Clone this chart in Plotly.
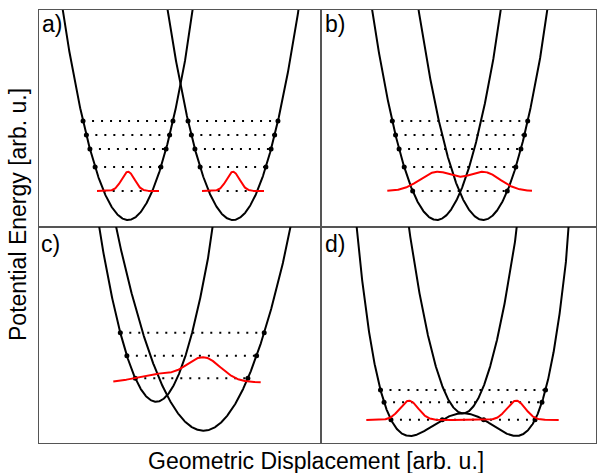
import numpy as np
import plotly.graph_objects as go

# ---------------- data (arbitrary units) ----------------
# panel a: two displaced harmonic wells, separate vibrational ladders
a_centres = [89, 194]
a_minima = [7, 7]
a_curv = [0.049, 0.049]
a_levels = [36, 60, 78, 92, 106]
a_marked = [False, True, True, True, True]
a_wave_centres = [89, 194]
a_wave_amps = [19.3, 19.3]
a_wave_sigma = [6.4, 6.4]
a_wave_base = 36
a_wave_halfspan = 31

# panel b: two close harmonic wells, shared ladder
b_centres = [115.7, 162.3]
b_minima = [7, 7]
b_curv = [0.0502, 0.0502]
b_levels = [36, 60, 78, 92, 106]
b_marked = [True, True, True, True, True]
b_wave_centres = [115.7, 162.3]
b_wave_amps = [18.9, 18.9]
b_wave_sigma = [16.7, 16.7]
b_wave_base = 36
b_wave_span = [66.3, 211]

# panel c: asymmetric wells (different minima and curvature)
c_centres = [117.2, 164.5]
c_minima = [41.3, 12.3]
c_curv = [0.0535, 0.0266]
c_levels = [64.7, 87.3, 110.3]
c_marked = [True, True, True]
c_wave_centres = [117.2, 164.5]
c_wave_amps = [8.0, 24.6]
c_wave_sigma = [20, 17]
c_wave_base = 60.7
c_wave_span = [74.3, 221.7]

# panel d: double-well (quartic) surface plus harmonic upper surface
d_centre = 142
d_well_halfsep = 53
d_barrier = 22.7
d_minimum = 7
d_upper_curv = 0.0635
d_levels = [23.3, 40.7, 53]
d_marked = [True, True, True]
d_wave_centres = [88, 195]
d_wave_amps = [19.3, 19.3]
d_wave_sigma = [9.2, 9.2]
d_wave_base = 23
d_wave_span = [45.3, 237.7]

labels = ["a)", "b)", "c)", "d)"]
x_title = "Geometric Displacement [arb. u.]"
y_title = "Potential Energy [arb. u.]"

# ---------------- layout constants ----------------
W, H = 597, 473
FONT = "Liberation Sans, Arial, sans-serif"
col_px = [(39, 321), (321, 596)]
row_px = [(10, 227), (227, 443)]
FRAME = "#555555"
BLACK = "#000000"
RED = "#ff0000"

fig = go.Figure()
axes = []  # (xref, yref, width, height)
k = 0
for r, (t, b) in enumerate(row_px):
    for c, (l, rr) in enumerate(col_px):
        k += 1
        sx = "" if k == 1 else str(k)
        wpx, hpx = rr - l, b - t
        fig.layout["xaxis" + sx] = dict(
            domain=[l / W, rr / W], range=[0, wpx], anchor="y" + sx,
            showline=True, mirror=True, linecolor=FRAME, linewidth=1,
            showgrid=False, zeroline=False, showticklabels=False, ticks="",
            fixedrange=True)
        fig.layout["yaxis" + sx] = dict(
            domain=[1 - b / H, 1 - t / H], range=[0, hpx], anchor="x" + sx,
            showline=True, mirror=True, linecolor=FRAME, linewidth=1,
            showgrid=False, zeroline=False, showticklabels=False, ticks="",
            fixedrange=True)
        axes.append(("x" + sx, "y" + sx, wpx, hpx))


def harm(x, c, e0, kk):
    return e0 + kk * (x - c) ** 2


def harm_cross(E, c, e0, kk):
    h = np.sqrt(max(E - e0, 0) / kk)
    return c - h, c + h


def quart(x, c, u0, D, e0):
    return e0 + D * (((x - c) / u0) ** 2 - 1) ** 2


def quart_cross(E, c, u0, D, e0):
    s = np.sqrt((E - e0) / D)
    outer = u0 * np.sqrt(1 + s)
    pts = [c - outer, c + outer]
    if s < 1:
        inner = u0 * np.sqrt(1 - s)
        pts += [c - inner, c + inner]
    return pts


def add_line(ax, xs, ys, color=BLACK, width=2, dash=None):
    fig.add_trace(go.Scatter(x=xs, y=ys, mode="lines", xaxis=ax[0], yaxis=ax[1],
                             line=dict(color=color, width=width, dash=dash),
                             hoverinfo="skip", showlegend=False))


def add_dots(ax, xs, ys):
    fig.add_trace(go.Scatter(x=xs, y=ys, mode="markers", xaxis=ax[0], yaxis=ax[1],
                             marker=dict(color=BLACK, size=5),
                             hoverinfo="skip", showlegend=False))


def add_level(ax, x0, x1, E):
    add_line(ax, [x0, x1], [E, E], width=2, dash="2px,7px")


def add_wave(ax, span, base, centres, amps, sigmas):
    xs = np.linspace(span[0], span[1], 400)
    ys = base + sum(a * np.exp(-(xs - c) ** 2 / (2 * s ** 2))
                    for c, a, s in zip(centres, amps, sigmas))
    add_line(ax, xs, ys, color=RED, width=2)


# ---- panel a ----
ax = axes[0]
xg = np.linspace(0, ax[2], 800)
for c, e0, kk in zip(a_centres, a_minima, a_curv):
    mx, my = [], []
    for E, m in zip(a_levels, a_marked):
        x0, x1 = harm_cross(E, c, e0, kk)
        add_level(ax, x0, x1, E)
        if m:
            mx += [x0, x1]
            my += [E, E]
    add_line(ax, xg, harm(xg, c, e0, kk))
    add_dots(ax, mx, my)
for c, a, s in zip(a_wave_centres, a_wave_amps, a_wave_sigma):
    add_wave(ax, [c - a_wave_halfspan, c + a_wave_halfspan], a_wave_base, [c], [a], [s])

# ---- panels b and c (shared ladders) ----
for ax, cs, e0s, ks, levels, marked, wc, wa, ws, wb, wsp in [
        (axes[1], b_centres, b_minima, b_curv, b_levels, b_marked,
         b_wave_centres, b_wave_amps, b_wave_sigma, b_wave_base, b_wave_span),
        (axes[2], c_centres, c_minima, c_curv, c_levels, c_marked,
         c_wave_centres, c_wave_amps, c_wave_sigma, c_wave_base, c_wave_span)]:
    xg = np.linspace(0, ax[2], 800)
    mx, my = [], []
    for E, m in zip(levels, marked):
        lefts = [harm_cross(E, c, e0, kk)[0] for c, e0, kk in zip(cs, e0s, ks)]
        rights = [harm_cross(E, c, e0, kk)[1] for c, e0, kk in zip(cs, e0s, ks)]
        x0, x1 = min(lefts), max(rights)
        add_level(ax, x0, x1, E)
        if m:
            mx += [x0, x1]
            my += [E, E]
    for c, e0, kk in zip(cs, e0s, ks):
        add_line(ax, xg, harm(xg, c, e0, kk))
    add_dots(ax, mx, my)
    add_wave(ax, wsp, wb, wc, wa, ws)

# ---- panel d ----
ax = axes[3]
xg = np.linspace(0, ax[2], 1200)
mx, my = [], []
for E, m in zip(d_levels, d_marked):
    pts = quart_cross(E, d_centre, d_well_halfsep, d_barrier, d_minimum)
    add_level(ax, min(pts), max(pts), E)
    if m:
        mx += pts
        my += [E] * len(pts)
add_line(ax, xg, quart(xg, d_centre, d_well_halfsep, d_barrier, d_minimum))
add_line(ax, xg, harm(xg, d_centre, d_minimum + d_barrier, d_upper_curv))
add_dots(ax, mx, my)
add_wave(ax, d_wave_span, d_wave_base, d_wave_centres, d_wave_amps, d_wave_sigma)

# ---- text ----
ann = []
label_pos = [(40, 9), (323, 9), (39, 229), (323, 229)]
for lab, (px, py) in zip(labels, label_pos):
    ann.append(dict(text=lab, x=px / W, y=1 - py / H, xref="paper", yref="paper",
                    xanchor="left", yanchor="top", showarrow=False,
                    font=dict(family=FONT, size=23, color=BLACK)))
ann.append(dict(text=x_title, x=316 / W, y=1 - 461 / H, xref="paper", yref="paper",
                xanchor="center", yanchor="middle", showarrow=False,
                font=dict(family=FONT, size=23, color=BLACK)))
ann.append(dict(text=y_title, x=18 / W, y=1 - 215 / H, xref="paper", yref="paper",
                xanchor="center", yanchor="middle", showarrow=False, textangle=-90,
                font=dict(family=FONT, size=23, color=BLACK)))

fig.update_layout(width=W, height=H, margin=dict(l=0, r=0, t=0, b=0),
                  paper_bgcolor="white", plot_bgcolor="white",
                  annotations=ann, showlegend=False)
fig.write_html("out.html")
